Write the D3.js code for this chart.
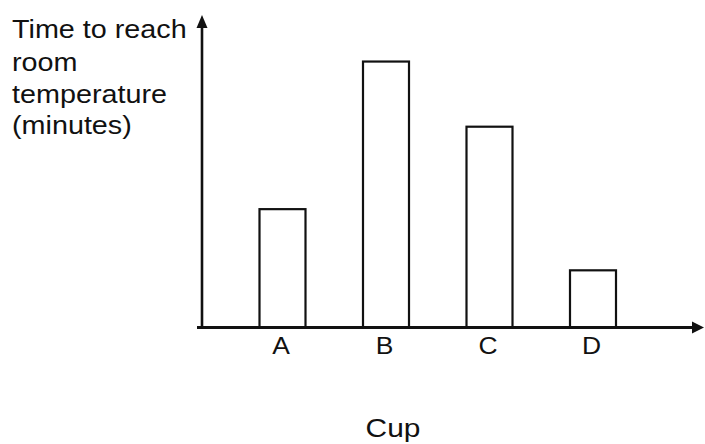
<!DOCTYPE html>
<html>
<head>
<meta charset="utf-8">
<script src="https://cdn.jsdelivr.net/npm/d3@7"></script>
<style>
  html, body { margin: 0; padding: 0; background: #fff; }
  svg { display: block; }
  text { font-family: "Liberation Sans", Arial, Helvetica, sans-serif; fill: #111; }
</style>
</head>
<body>
<svg id="chart" width="705" height="444"></svg>
<script>
// ---- data ----
const categories = ["A", "B", "C", "D"];
const times = [4.45, 10, 7.55, 2.15];          // relative time (no scale shown)
const yLabelLines = ["Time to reach", "room", "temperature", "(minutes)"];
const xTitle = "Cup";
const yMax = 11.75;

const svg = d3.select("#chart");
const W = 705, H = 444;
const axisX = 202, axisY = 327.5, yTop = 15, xEnd = 704;
const stretch = 1.15;

const x = d3.scalePoint().domain(categories).range([282.5, 593]).padding(0);
const y = d3.scaleLinear().domain([0, yMax]).range([axisY, yTop]);
const barW = 46;

// bars
svg.append("g").selectAll("rect")
  .data(categories.map((c, i) => ({c, v: times[i]})))
  .join("rect")
  .attr("x", d => x(d.c) - barW / 2)
  .attr("y", d => y(d.v))
  .attr("width", barW)
  .attr("height", d => y(0) - y(d.v))
  .attr("fill", "#fff")
  .attr("stroke", "#111")
  .attr("stroke-width", 2.2);

// axes lines
svg.append("line")
  .attr("x1", axisX).attr("x2", axisX)
  .attr("y1", axisY + 1).attr("y2", yTop + 8)
  .attr("stroke", "#111").attr("stroke-width", 2.6);
svg.append("line")
  .attr("x1", 197).attr("x2", xEnd - 8)
  .attr("y1", axisY).attr("y2", axisY)
  .attr("stroke", "#111").attr("stroke-width", 2.8);

// arrowheads
svg.append("path")
  .attr("d", `M${axisX},${yTop} L${axisX - 5.5},${yTop + 13} L${axisX + 5.5},${yTop + 13} Z`)
  .attr("fill", "#111");
svg.append("path")
  .attr("d", `M${xEnd},${axisY} L${xEnd - 12},${axisY - 6} L${xEnd - 12},${axisY + 6} Z`)
  .attr("fill", "#111");

// category labels via axis
const xAxis = d3.axisBottom(x).tickSize(0).tickPadding(0);
const gx = svg.append("g").attr("transform", `translate(0,${axisY})`).call(xAxis);
gx.select(".domain").remove();
gx.selectAll(".tick text")
  .attr("y", 0).attr("dy", 0)
  .attr("font-size", 23)
  .attr("text-anchor", "middle")
  .attr("transform", `translate(-2,26) scale(${stretch},1)`)
  .style("font-family", '"Liberation Sans", Arial, sans-serif')
  .style("fill", "#111");

// x title
svg.append("text")
  .attr("transform", `translate(393,437) scale(${stretch},1)`)
  .attr("text-anchor", "middle")
  .attr("font-size", 26)
  .text(xTitle);

// y title (multi-line)
const baselines = [38, 70.5, 102.5, 134];
svg.append("g").selectAll("text")
  .data(yLabelLines)
  .join("text")
  .attr("transform", (d, i) => `translate(12,${baselines[i]}) scale(${stretch},1)`)
  .attr("font-size", 25)
  .text(d => d);
</script>
</body>
</html>
